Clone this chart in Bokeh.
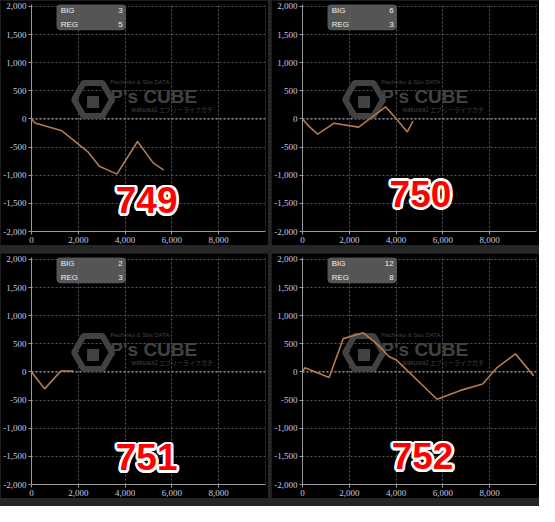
import math
from bokeh.plotting import figure
from bokeh.layouts import column, row
from bokeh.models import (FixedTicker, NumeralTickFormatter, Span, BoxAnnotation,
                          ColumnDataSource, Spacer)
from bokeh.core.properties import value
from bokeh.embed import file_html
from bokeh.resources import INLINE

# ---- data ----
machines = ["749", "750", "751", "752"]
big_counts = [3, 6, 2, 12]
reg_counts = [5, 3, 3, 8]

x749 = [0, 150, 1300, 2400, 2900, 3650, 4530, 5200, 5650]
y749 = [0, -70, -210, -580, -840, -980, -400, -780, -910]

x750 = [0, 300, 650, 1350, 2400, 3550, 4000, 4480, 4720]
y750 = [0, -140, -270, -75, -145, 215, 10, -230, -40]

x751 = [0, 560, 1250, 1800]
y751 = [0, -300, 15, 15]

x752 = [0, 100, 1140, 1740, 2600, 3240, 3690, 4030, 5750, 6750, 7700, 8310, 9100, 9880]
y752 = [0, 75, -97, 593, 697, 478, 276, 207, -485, -327, -212, 76, 322, -69]

series_x = [x749, x750, x751, x752]
series_y = [y749, y750, y751, y752]

y_ticks = [-2000, -1500, -1000, -500, 0, 500, 1000, 1500, 2000]
x_ticks = [0, 2000, 4000, 6000, 8000]

# label positions (data coords) for the big machine numbers
num_x = [4920, 5040, 4920, 5130]
num_y = [-1445, -1333, -1519, -1500]

TICK_FONT = "Liberation Sans Narrow"
TICK_COLOR = "#c3cbe0"
LINE_COLOR = "#b47a4e"
WM_COLOR = "#424242"


def make_panel(i):
    p = figure(width=268, height=245, x_range=(0, 10000), y_range=(-2000, 2035),
               output_backend="svg", toolbar_location=None,
               background_fill_color="black", border_fill_color="black",
               min_border_left=29, min_border_right=3, min_border_top=4,
               min_border_bottom=14)
    p.outline_line_color = None

    for ax in (p.xaxis, p.yaxis):
        ax.axis_line_color = "#9a9a9a"
        ax.major_tick_line_color = "#9a9a9a"
        ax.major_tick_out = 3
        ax.major_tick_in = 0
        ax.minor_tick_line_color = None
        ax.major_label_text_font = TICK_FONT
        ax.major_label_text_font_size = "9px"
        ax.major_label_text_color = TICK_COLOR
        ax.major_label_standoff = 2
        ax.formatter = NumeralTickFormatter(format="0,0")
    p.yaxis.ticker = FixedTicker(ticks=y_ticks)
    p.xaxis.ticker = FixedTicker(ticks=x_ticks)

    p.grid.grid_line_color = "#555555"
    p.grid.grid_line_dash = "2 2"
    p.grid.grid_line_width = 1

    p.add_layout(Span(location=0, dimension="width", line_color="#b0b0b0",
                      line_dash="2 2", line_width=1, level="underlay"))
    p.add_layout(Span(location=10000, dimension="height", line_color="#555555",
                      line_dash="2 2", line_width=1, level="underlay"))

    # watermark
    p.scatter([2630], [345], marker="hex", size=38, fill_color=None,
              line_color=WM_COLOR, line_width=6)
    p.scatter([2630], [300], marker="square", size=12, fill_color=WM_COLOR,
              line_color=None)
    p.text([3370], [400], text=["P's CUBE"], text_font=value("Liberation Sans"),
           text_font_style="bold", text_font_size="19px", text_color=WM_COLOR,
           text_baseline="middle", text_align="left")
    p.text([3370], [650], text=["Pachinko & Slot DATA"], text_font=value("Liberation Sans"),
           text_font_size="6px", text_color=WM_COLOR, text_baseline="middle",
           text_align="left")
    p.text([4260], [170], text=["wakuwa2 エブリーライフガチ"],
           text_font=value("Noto Sans CJK JP"), text_font_size="6px",
           text_color=WM_COLOR, text_baseline="middle", text_align="left")

    # data line
    src = ColumnDataSource(dict(x=series_x[i], y=series_y[i]))
    p.line("x", "y", source=src, line_color=LINE_COLOR, line_width=1.6)

    # BIG / REG box
    p.add_layout(BoxAnnotation(left=1080, right=4020, bottom=1580, top=2035,
                               fill_color="#5e5e5e", fill_alpha=0.9,
                               line_color="#7a7a7a", line_width=1,
                               border_radius=4, level="underlay"))
    p.text([1250, 1250], [1930, 1685], text=["BIG", "REG"],
           text_font=value("Liberation Sans"), text_font_size="8px",
           text_color="#f0f0f0", text_baseline="middle", text_align="left")
    p.text([3900, 3900], [1930, 1685],
           text=[str(big_counts[i]), str(reg_counts[i])],
           text_font=value("Liberation Sans"), text_font_size="8px",
           text_color="#f0f0f0", text_baseline="middle", text_align="right")

    # big machine number with a thick white outline
    offs = [(2.6 * math.cos(a * math.pi / 8), 2.6 * math.sin(a * math.pi / 8))
            for a in range(16)]
    for dx, dy in offs:
        p.text([num_x[i]], [num_y[i]], text=[machines[i]],
               text_font=value("Liberation Sans"), text_font_style="bold",
               text_font_size="37px", text_color="white",
               x_offset=dx, y_offset=dy, text_align="center",
               text_baseline="middle")
    p.text([num_x[i]], [num_y[i]], text=[machines[i]],
           text_font=value("Liberation Sans"), text_font_style="bold",
           text_font_size="37px", text_color="#ff0000",
           text_align="center", text_baseline="middle")
    return p


panels = [make_panel(i) for i in range(4)]
layout = column(row(panels[0], panels[1], spacing=3),
                row(panels[2], panels[3], spacing=3),
                Spacer(width=10, height=0),
                spacing=8, styles={"background-color": "#262626"})

open("out.html", "w").write(file_html(layout, INLINE))
